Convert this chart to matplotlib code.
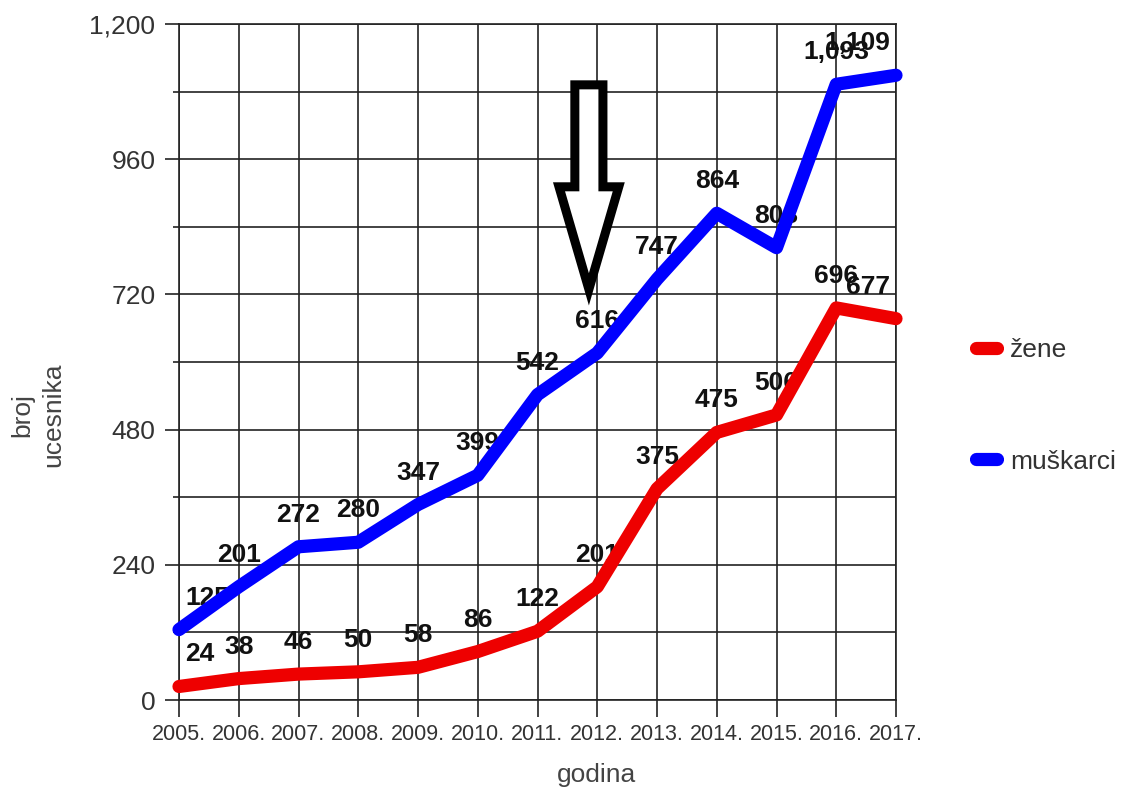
import numpy as np
import matplotlib.pyplot as plt
from matplotlib.patches import FancyArrow
from matplotlib.ticker import FuncFormatter, MultipleLocator

plt.rcParams['font.family'] = ['Liberation Sans', 'DejaVu Sans']

godine = [2005, 2006, 2007, 2008, 2009, 2010, 2011, 2012, 2013, 2014, 2015, 2016, 2017]
godine_labels = ['{}.'.format(g) for g in godine]
zene = [24, 38, 46, 50, 58, 86, 122, 201, 375, 475, 506, 696, 677]
muskarci = [125, 201, 272, 280, 347, 399, 542, 616, 747, 864, 803, 1093, 1109]

W, H = 1127, 789
fig = plt.figure(figsize=(W / 100, H / 100), dpi=100)
ax = fig.add_axes([179 / W, 1 - 700 / H, 717 / W, 676 / H])

lw = 9.5
ax.plot(godine, zene, color='#ee0000', lw=lw, solid_joinstyle='round',
        solid_capstyle='round', label='žene', zorder=4, clip_on=False)
ax.plot(godine, muskarci, color='#0000ff', lw=lw, solid_joinstyle='round',
        solid_capstyle='round', label='muškarci', zorder=4, clip_on=False)

# value labels above points (drawn under the lines)
for serija in (zene, muskarci):
    n = len(serija)
    for i, (g, v) in enumerate(zip(godine, serija)):
        if i == 0:
            ha, dx = 'left', 6
        elif i == n - 1:
            ha, dx = 'right', -6
        else:
            ha, dx = 'center', 0
        ax.annotate('{:,}'.format(v), (g, v), xytext=(dx, 32),
                    textcoords='offset pixels', ha=ha, va='center',
                    fontsize=19, fontweight='bold', color='#111111', zorder=3)

ax.set_xlim(2005, 2017)
ax.set_ylim(0, 1200)
ax.set_xticks(godine)
ax.set_xticklabels(godine_labels)
ax.yaxis.set_major_locator(MultipleLocator(240))
ax.yaxis.set_minor_locator(MultipleLocator(120))
ax.yaxis.set_major_formatter(FuncFormatter(lambda v, p: '{:,}'.format(int(v))))

ax.grid(which='both', color='#222222', lw=1.2, zorder=1)
ax.set_axisbelow(True)
for s in ax.spines.values():
    s.set_color('#222222')
    s.set_linewidth(1.2)

ax.tick_params(axis='y', which='major', direction='out', length=10, width=1.2,
               pad=7, labelsize=19, labelcolor='#333333', color='#222222')
ax.tick_params(axis='y', which='minor', direction='out', length=4, width=1.2,
               color='#222222')
ax.tick_params(axis='x', direction='out', length=12, width=1.2, pad=5,
               labelsize=15.5, labelcolor='#333333', color='#222222')

# hollow arrow pointing at 2012
strelica = FancyArrow(2011.86, 1092, 0, -363, width=0.47, head_width=1.0,
                      head_length=182, length_includes_head=True,
                      facecolor='white', edgecolor='black', lw=6.5,
                      joinstyle='miter', zorder=6)
ax.add_patch(strelica)

fig.text(597 / W, 1 - 775 / H, 'godina', ha='center', va='center',
         fontsize=19, color='#444444')
fig.text(38 / W, 1 - 415 / H, 'broj\nucesnika', ha='center', va='center',
         rotation=90, multialignment='center', fontsize=19, color='#444444',
         linespacing=1.35)

fig.legend(loc='upper left', bbox_to_anchor=(0.866, 0.571), frameon=False,
           fontsize=19, handlelength=0.8, handletextpad=0.5, labelspacing=3.3,
           borderpad=0, borderaxespad=0, labelcolor='#333333')

fig.savefig('out.png', dpi=100)
